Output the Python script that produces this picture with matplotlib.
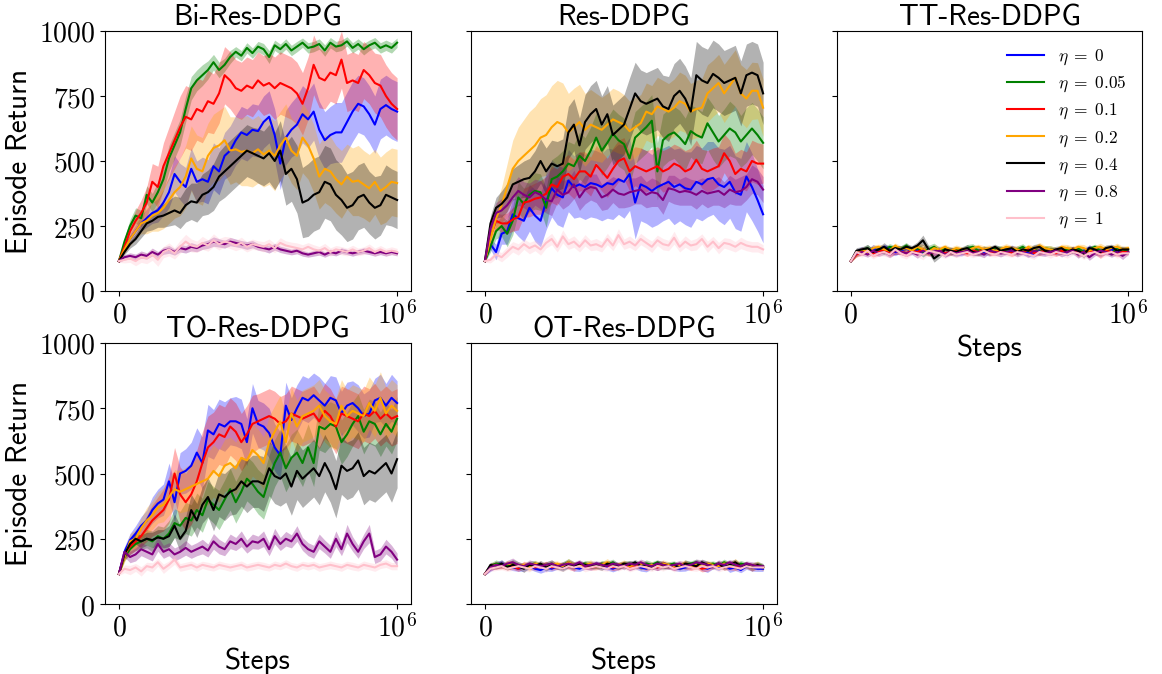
import numpy as np
import matplotlib.pyplot as plt

plt.rcParams['mathtext.fontset'] = 'cm'

# evaluation points (steps), 51 checkpoints from 0 to 1e6
steps = np.linspace(0, 1e6, 51)

eta_labels = [r'$\eta\;=\;0$', r'$\eta\;=\;0.05$', r'$\eta\;=\;0.1$', r'$\eta\;=\;0.2$',
              r'$\eta\;=\;0.4$', r'$\eta\;=\;0.8$', r'$\eta\;=\;1$']
colors = ['blue', 'green', 'red', 'orange', 'black', 'purple', 'pink']

# ---------------- Bi-Res-DDPG ----------------
bi_0 = [115, 170, 200, 230, 260, 280, 300, 310, 340, 380,
        450, 420, 400, 470, 420, 430, 420, 480, 460, 520,
        540, 580, 610, 600, 620, 615, 650, 670, 600, 490,
        590, 620, 640, 680, 660, 690, 620, 580, 600, 610,
        610, 650, 690, 720, 710, 680, 640, 700, 715, 700,
        690]
bi_0_sd = [5, 15, 20, 25, 30, 35, 40, 45, 50, 60,
           70, 70, 75, 80, 80, 85, 85, 90, 90, 90,
           95, 95, 100, 100, 100, 100, 100, 100, 100, 100,
           105, 105, 110, 110, 110, 110, 110, 110, 110, 115,
           115, 115, 115, 110, 110, 110, 110, 115, 115, 115,
           115]
bi_005 = [115, 190, 250, 290, 280, 370, 340, 380, 430, 510,
          560, 610, 700, 780, 810, 830, 850, 880, 850, 870,
          900, 920, 905, 935, 915, 940, 930, 900, 945, 930,
          950, 925, 940, 955, 935, 940, 950, 925, 955, 940,
          945, 960, 935, 950, 930, 945, 955, 935, 945, 935,
          955]
bi_005_sd = [5, 15, 25, 30, 30, 35, 35, 40, 45, 50,
             50, 50, 50, 45, 40, 40, 35, 30, 30, 25,
             25, 20, 20, 20, 20, 20, 22, 25, 20, 20,
             20, 20, 20, 18, 20, 20, 20, 22, 20, 20,
             20, 18, 20, 20, 22, 20, 20, 20, 20, 20,
             18]
bi_01 = [115, 170, 230, 270, 300, 340, 420, 400, 480, 530,
         580, 630, 670, 660, 700, 690, 730, 720, 760, 830,
         810, 780, 770, 790, 780, 810, 790, 800, 780, 800,
         790, 780, 760, 720, 780, 870, 820, 810, 840, 830,
         890, 800, 810, 800, 850, 830, 800, 790, 750, 720,
         700]
bi_01_sd = [5, 20, 30, 40, 50, 60, 70, 80, 90, 100,
            110, 120, 120, 120, 120, 120, 120, 115, 115, 110,
            110, 110, 110, 110, 110, 110, 115, 115, 120, 120,
            120, 120, 120, 120, 120, 115, 115, 110, 110, 110,
            110, 110, 110, 110, 110, 110, 115, 120, 120, 120,
            120]
bi_02 = [115, 160, 200, 230, 260, 270, 290, 300, 320, 350,
         380, 400, 440, 510, 470, 460, 520, 550, 560, 580,
         540, 545, 535, 540, 530, 545, 525, 540, 520, 560,
         590, 540, 520, 590, 560, 510, 440, 470, 460, 430,
         410, 440, 420, 425, 410, 395, 420, 385, 400, 420,
         415]
bi_02_sd = [5, 15, 25, 30, 40, 50, 60, 70, 80, 90,
            100, 110, 120, 125, 130, 130, 125, 130, 135, 130,
            130, 125, 130, 135, 130, 130, 125, 130, 135, 130,
            130, 125, 130, 135, 130, 130, 125, 130, 135, 130,
            130, 125, 130, 135, 130, 130, 125, 130, 135, 130,
            130]
bi_04 = [115, 150, 180, 200, 230, 260, 270, 285, 290, 300,
         310, 300, 330, 345, 340, 370, 380, 400, 440, 460,
         480, 500, 520, 540, 530, 520, 510, 530, 500, 540,
         450, 470, 430, 340, 350, 370, 380, 420, 410, 370,
         350, 320, 330, 360, 370, 340, 320, 330, 370, 360,
         350]
bi_04_sd = [5, 10, 15, 20, 25, 30, 35, 40, 45, 50,
            55, 60, 65, 70, 75, 80, 85, 90, 95, 100,
            100, 100, 100, 100, 100, 105, 105, 110, 110, 115,
            120, 125, 130, 135, 140, 140, 140, 140, 140, 135,
            135, 130, 130, 125, 125, 120, 120, 115, 115, 110,
            110]
bi_08 = [115, 130, 135, 130, 140, 135, 150, 140, 155, 160,
         150, 165, 160, 170, 165, 175, 180, 190, 185, 180,
         190, 185, 180, 175, 180, 170, 165, 160, 170, 160,
         155, 150, 155, 145, 140, 145, 150, 140, 150, 145,
         155, 150, 145, 150, 155, 150, 145, 150, 145, 150,
         145]
bi_08_sd = [5, 10, 12, 12, 14, 12, 15, 12, 14, 15,
            12, 15, 14, 16, 14, 15, 16, 18, 16, 15,
            16, 15, 14, 15, 14, 13, 12, 14, 13, 12,
            12, 11, 12, 11, 10, 11, 12, 10, 11, 10,
            11, 10, 11, 10, 11, 10, 11, 10, 11, 10,
            10]
bi_1 = [115, 120, 125, 115, 130, 125, 140, 120, 150, 160,
        145, 170, 190, 175, 170, 185, 175, 195, 180, 190,
        185, 175, 185, 170, 180, 175, 170, 180, 165, 185,
        175, 170, 165, 160, 170, 160, 155, 165, 150, 160,
        155, 150, 160, 150, 155, 165, 150, 160, 150, 155,
        150]
bi_1_sd = [5, 12, 15, 18, 20, 20, 22, 25, 22, 25,
           22, 25, 28, 25, 22, 25, 22, 25, 22, 20,
           22, 20, 22, 20, 20, 18, 20, 20, 18, 20,
           18, 18, 20, 18, 16, 18, 16, 18, 16, 15,
           16, 15, 16, 15, 15, 16, 15, 15, 14, 15,
           14]

# ---------------- Res-DDPG ----------------
res_0 = [115, 180, 150, 220, 230, 295, 280, 270, 320, 290,
         270, 345, 395, 370, 360, 425, 400, 410, 400, 415,
         410, 400, 415, 410, 430, 420, 450, 340, 410, 400,
         385, 400, 410, 420, 400, 410, 395, 390, 420, 410,
         430, 435, 410, 400, 420, 380, 370, 440, 400, 350,
         295]
res_0_sd = [5, 20, 30, 40, 50, 60, 70, 80, 90, 100,
            100, 110, 110, 115, 115, 120, 120, 125, 125, 130,
            130, 130, 135, 135, 135, 140, 140, 140, 140, 140,
            140, 145, 140, 140, 145, 140, 140, 145, 140, 140,
            145, 140, 140, 145, 140, 140, 140, 135, 130, 120,
            110]
res_005 = [115, 170, 230, 250, 220, 270, 360, 335, 370, 385,
           380, 320, 430, 440, 460, 490, 480, 520, 500, 540,
           590, 540, 570, 605, 580, 565, 510, 590, 610, 630,
           655, 460, 580, 600, 610, 590, 565, 615, 600, 590,
           645, 610, 575, 600, 625, 610, 575, 600, 625, 600,
           570]
res_005_sd = [5, 20, 30, 40, 50, 55, 60, 60, 65, 70,
              70, 75, 75, 80, 80, 85, 85, 90, 90, 90,
              95, 95, 95, 95, 100, 100, 100, 100, 100, 100,
              100, 110, 100, 100, 100, 105, 100, 100, 105, 100,
              100, 105, 100, 100, 105, 100, 100, 105, 100, 100,
              100]
res_01 = [115, 210, 270, 260, 260, 275, 285, 340, 345, 355,
          360, 375, 410, 400, 440, 450, 430, 460, 460, 440,
          485, 460, 435, 470, 500, 510, 460, 480, 470, 460,
          470, 480, 460, 470, 490, 480, 460, 470, 505, 470,
          460, 470, 480, 530, 500, 450, 470, 460, 500, 490,
          490]
res_01_sd = [5, 20, 30, 35, 40, 45, 50, 55, 60, 60,
             65, 65, 70, 70, 70, 75, 75, 75, 75, 75,
             75, 75, 75, 80, 80, 80, 75, 75, 80, 80,
             75, 75, 80, 80, 75, 75, 80, 80, 75, 75,
             80, 80, 75, 75, 80, 80, 75, 75, 80, 80,
             75]
res_02 = [115, 200, 280, 330, 400, 470, 500, 520, 540, 560,
          590, 600, 630, 650, 640, 610, 630, 650, 620, 640,
          630, 620, 640, 660, 650, 640, 615, 630, 645, 690,
          680, 710, 700, 690, 705, 730, 720, 690, 700, 705,
          760, 780, 800, 760, 790, 820, 760, 740, 770, 770,
          705]
res_02_sd = [5, 30, 50, 70, 90, 110, 130, 140, 150, 150,
             150, 155, 160, 160, 160, 150, 150, 145, 140, 135,
             130, 125, 120, 120, 120, 115, 115, 115, 110, 110,
             110, 112, 110, 108, 110, 112, 110, 108, 110, 112,
             110, 108, 110, 112, 110, 108, 110, 112, 110, 108,
             110]
res_04 = [115, 260, 320, 335, 360, 410, 420, 430, 435, 460,
          500, 460, 490, 480, 490, 610, 640, 560, 650, 680,
          700, 640, 680, 600, 620, 640, 700, 760, 730, 720,
          730, 740, 710, 700, 750, 770, 740, 690, 830, 810,
          800, 835, 820, 800, 810, 820, 760, 830, 840, 830,
          760]
res_04_sd = [5, 30, 40, 50, 55, 60, 65, 70, 75, 80,
             85, 90, 90, 95, 95, 100, 100, 105, 105, 110,
             110, 110, 110, 115, 115, 115, 120, 120, 120, 120,
             120, 120, 120, 125, 125, 125, 125, 130, 130, 130,
             130, 130, 130, 125, 125, 125, 125, 120, 120, 120,
             120]
res_08 = [115, 240, 300, 310, 330, 360, 385, 370, 360, 380,
          370, 350, 345, 390, 370, 380, 410, 360, 390, 400,
          395, 360, 370, 390, 375, 370, 380, 385, 390, 370,
          380, 375, 350, 395, 390, 380, 385, 380, 370, 385,
          375, 380, 385, 370, 390, 380, 385, 400, 430, 420,
          390]
res_08_sd = [5, 30, 40, 45, 50, 50, 55, 50, 55, 50,
             55, 50, 55, 50, 55, 50, 55, 50, 55, 50,
             55, 50, 55, 50, 55, 50, 55, 50, 55, 50,
             55, 50, 55, 50, 55, 50, 55, 50, 55, 50,
             55, 50, 55, 50, 55, 50, 55, 50, 55, 50,
             50]
res_1 = [115, 120, 140, 130, 150, 170, 160, 180, 165, 175,
         160, 185, 200, 170, 210, 180, 190, 170, 195, 175,
         180, 170, 200, 175, 215, 180, 190, 175, 200, 185,
         170, 195, 180, 175, 205, 170, 190, 175, 180, 200,
         170, 190, 165, 185, 180, 170, 185, 175, 170, 170,
         160]
res_1_sd = [5, 12, 15, 18, 20, 20, 22, 20, 22, 20,
            22, 20, 22, 20, 25, 20, 22, 20, 22, 20,
            22, 20, 22, 20, 25, 20, 22, 20, 22, 20,
            22, 20, 22, 20, 25, 20, 22, 20, 22, 20,
            22, 20, 22, 20, 22, 20, 22, 20, 20, 20,
            18]

# ---------------- TT-Res-DDPG ----------------
tt_0 = [115, 150, 160, 150, 165, 155, 170, 160, 150, 155,
        165, 150, 160, 145, 155, 150, 160, 140, 155, 150,
        145, 160, 150, 155, 150, 145, 160, 155, 150, 165,
        155, 150, 145, 140, 155, 150, 160, 150, 155, 145,
        160, 150, 155, 165, 150, 145, 155, 160, 150, 155,
        150]
tt_005 = [115, 145, 155, 165, 150, 160, 155, 170, 165, 160,
          175, 155, 165, 150, 160, 170, 155, 165, 150, 160,
          155, 165, 170, 155, 160, 150, 165, 160, 155, 150,
          160, 170, 155, 160, 150, 165, 160, 155, 150, 160,
          155, 165, 150, 160, 170, 155, 160, 145, 165, 155,
          160]
tt_01 = [115, 140, 150, 155, 145, 150, 160, 145, 155, 150,
         145, 155, 150, 160, 145, 150, 155, 145, 150, 155,
         150, 145, 155, 150, 160, 145, 150, 155, 150, 145,
         155, 150, 160, 145, 150, 155, 150, 145, 155, 150,
         160, 145, 150, 155, 150, 140, 155, 150, 145, 150,
         150]
tt_02 = [115, 145, 160, 150, 165, 170, 160, 155, 175, 160,
         165, 155, 170, 160, 150, 165, 160, 170, 155, 165,
         160, 155, 165, 170, 160, 165, 155, 160, 170, 165,
         160, 155, 170, 160, 175, 165, 160, 155, 170, 165,
         160, 170, 165, 155, 165, 170, 160, 165, 170, 160,
         165]
tt_04 = [115, 155, 160, 165, 150, 160, 170, 155, 165, 160,
         170, 165, 175, 195, 160, 125, 140, 160, 155, 150,
         160, 165, 150, 145, 155, 160, 170, 155, 160, 165,
         150, 160, 155, 165, 170, 155, 150, 160, 165, 150,
         160, 155, 140, 165, 160, 150, 165, 170, 155, 160,
         160]
tt_08 = [115, 145, 150, 140, 155, 145, 150, 140, 155, 150,
         145, 150, 140, 155, 145, 150, 155, 140, 150, 145,
         150, 155, 145, 150, 140, 155, 150, 145, 150, 155,
         145, 150, 140, 155, 150, 145, 150, 155, 145, 150,
         155, 140, 150, 130, 145, 155, 150, 140, 150, 135,
         150]
tt_1 = [115, 150, 140, 155, 135, 145, 150, 140, 160, 145,
        135, 150, 145, 140, 155, 150, 145, 135, 150, 140,
        145, 150, 140, 145, 155, 145, 140, 150, 145, 140,
        150, 145, 140, 135, 150, 145, 140, 150, 145, 140,
        150, 145, 135, 145, 150, 140, 145, 150, 140, 145,
        145]
tt_sd_a = [4, 10, 12, 10, 14, 12, 10, 12, 14, 10,
           12, 10, 14, 12, 10, 14, 12, 10, 12, 14,
           10, 12, 10, 14, 12, 10, 12, 14, 10, 12,
           14, 10, 12, 10, 14, 12, 10, 12, 14, 10,
           12, 14, 10, 12, 10, 14, 12, 10, 12, 14,
           10]
tt_sd_b = [4, 12, 10, 14, 12, 10, 16, 12, 10, 14,
           12, 10, 14, 20, 16, 14, 12, 10, 14, 12,
           10, 14, 12, 10, 14, 12, 10, 14, 12, 10,
           14, 12, 10, 14, 12, 10, 14, 12, 10, 14,
           12, 10, 14, 12, 10, 14, 12, 10, 14, 12,
           10]

# ---------------- TO-Res-DDPG ----------------
to_0 = [115, 200, 245, 270, 300, 320, 360, 385, 400, 470,
        390, 500, 510, 530, 580, 540, 665, 650, 690, 680,
        700, 700, 690, 620, 750, 690, 680, 655, 600, 570,
        760, 705, 750, 790, 780, 800, 780, 760, 790, 780,
        730, 760, 770, 750, 720, 730, 780, 790, 760, 790,
        770]
to_0_sd = [5, 20, 25, 30, 35, 40, 50, 55, 60, 70,
           75, 80, 85, 90, 95, 100, 100, 95, 95, 95,
           90, 95, 95, 90, 95, 90, 90, 95, 90, 90,
           90, 85, 90, 85, 85, 85, 90, 85, 85, 90,
           85, 90, 85, 90, 85, 90, 85, 90, 85, 90,
           85]
to_005 = [115, 180, 210, 230, 240, 250, 240, 260, 250, 270,
          310, 300, 330, 320, 360, 340, 400, 380, 360, 400,
          440, 390, 430, 480, 460, 430, 410, 480, 540, 580,
          520, 560, 580, 540, 600, 540, 680, 670, 690, 680,
          620, 650, 690, 720, 660, 700, 690, 650, 690, 660,
          710]
to_005_sd = [5, 15, 20, 25, 30, 35, 40, 40, 45, 50,
             55, 55, 60, 60, 65, 65, 70, 70, 75, 75,
             80, 80, 80, 85, 85, 85, 85, 90, 90, 90,
             90, 90, 90, 90, 90, 90, 90, 90, 85, 85,
             85, 85, 85, 85, 85, 85, 85, 85, 85, 85,
             85]
to_01 = [115, 190, 220, 240, 260, 290, 320, 340, 360, 400,
         500, 420, 390, 420, 470, 540, 600, 620, 650, 640,
         680, 660, 620, 650, 690, 700, 710, 720, 710, 690,
         700, 730, 720, 710, 720, 730, 700, 740, 720, 680,
         730, 720, 710, 700, 730, 720, 740, 710, 730, 710,
         720]
to_01_sd = [5, 20, 30, 35, 40, 50, 60, 70, 80, 90,
            100, 105, 110, 115, 120, 120, 120, 115, 115, 115,
            110, 110, 110, 110, 110, 105, 105, 105, 105, 105,
            105, 105, 105, 105, 105, 105, 105, 105, 105, 105,
            105, 105, 105, 105, 105, 105, 105, 105, 105, 105,
            105]
to_02 = [115, 180, 240, 250, 290, 320, 340, 370, 380, 410,
         440, 430, 440, 450, 460, 470, 480, 510, 490, 530,
         540, 520, 560, 550, 590, 570, 540, 620, 660, 700,
         620, 730, 680, 720, 730, 740, 760, 720, 700, 690,
         760, 720, 740, 730, 720, 770, 740, 790, 730, 760,
         740]
to_02_sd = [5, 20, 30, 35, 40, 50, 55, 60, 65, 70,
            75, 80, 85, 90, 95, 100, 100, 100, 100, 100,
            100, 100, 100, 100, 100, 100, 100, 100, 100, 100,
            100, 100, 100, 100, 100, 100, 100, 100, 100, 100,
            100, 100, 100, 100, 100, 100, 100, 100, 100, 100,
            100]
to_04 = [115, 190, 230, 250, 240, 250, 245, 255, 250, 260,
         300, 250, 280, 360, 320, 380, 410, 360, 420, 410,
         430, 440, 470, 450, 470, 470, 460, 520, 490, 480,
         500, 450, 510, 480, 500, 520, 490, 540, 500, 440,
         530, 510, 520, 550, 490, 510, 500, 520, 540, 500,
         555]
to_04_sd = [5, 15, 20, 20, 25, 25, 30, 30, 35, 40,
            45, 50, 55, 60, 65, 70, 75, 80, 85, 90,
            90, 95, 95, 100, 100, 100, 105, 105, 105, 105,
            110, 110, 110, 110, 110, 110, 110, 110, 110, 110,
            110, 110, 110, 110, 110, 110, 110, 110, 110, 110,
            110]
to_08 = [115, 200, 180, 190, 210, 200, 190, 230, 200, 210,
         190, 200, 215, 200, 210, 220, 205, 240, 220, 210,
         240, 230, 250, 220, 240, 235, 250, 210, 260, 230,
         250, 240, 270, 230, 210, 200, 240, 220, 200, 250,
         210, 270, 230, 200, 240, 270, 180, 190, 220, 200,
         170]
to_08_sd = [5, 20, 22, 25, 25, 25, 25, 28, 25, 25,
            25, 25, 28, 25, 25, 28, 25, 30, 28, 25,
            28, 25, 30, 25, 28, 25, 30, 25, 30, 25,
            28, 25, 30, 25, 25, 25, 28, 25, 25, 30,
            25, 35, 28, 25, 28, 35, 25, 25, 28, 25,
            25]
to_1 = [115, 135, 130, 140, 125, 145, 140, 160, 135, 150,
        170, 140, 145, 150, 140, 150, 145, 140, 150, 145,
        140, 145, 150, 140, 145, 150, 145, 140, 150, 145,
        155, 145, 140, 150, 145, 150, 140, 145, 150, 145,
        140, 150, 145, 140, 150, 145, 140, 150, 155, 145,
        145]
to_1_sd = [5, 15, 18, 15, 18, 15, 18, 15, 18, 15,
           18, 15, 15, 15, 15, 14, 15, 14, 15, 14,
           15, 14, 15, 14, 15, 14, 15, 14, 15, 14,
           15, 14, 15, 14, 15, 14, 15, 14, 15, 14,
           15, 14, 15, 14, 15, 14, 15, 14, 15, 14,
           14]

# ---------------- OT-Res-DDPG ----------------
ot_0 = [115, 135, 150, 155, 145, 140, 135, 140, 145, 135,
        130, 140, 135, 145, 140, 150, 140, 135, 145, 140,
        150, 145, 140, 135, 145, 150, 140, 145, 140, 135,
        145, 140, 150, 145, 140, 135, 140, 145, 150, 140,
        135, 145, 140, 150, 135, 140, 130, 145, 140, 135,
        135]
ot_005 = [115, 145, 155, 150, 145, 155, 150, 145, 150, 155,
          145, 150, 155, 145, 150, 160, 150, 145, 155, 150,
          145, 155, 150, 160, 145, 150, 155, 150, 145, 155,
          150, 160, 145, 150, 155, 145, 150, 155, 160, 145,
          150, 155, 145, 160, 150, 145, 155, 150, 145, 150,
          145]
ot_01 = [115, 140, 145, 150, 140, 145, 135, 150, 145, 140,
         145, 150, 140, 145, 150, 145, 140, 150, 145, 140,
         145, 150, 145, 140, 145, 150, 140, 145, 150, 140,
         145, 140, 150, 145, 140, 145, 150, 140, 145, 135,
         140, 145, 150, 140, 145, 140, 145, 150, 140, 145,
         140]
ot_02 = [115, 145, 150, 145, 155, 150, 145, 150, 140, 155,
         150, 145, 150, 155, 145, 160, 150, 145, 150, 155,
         145, 150, 160, 145, 150, 155, 145, 150, 155, 145,
         150, 145, 155, 150, 145, 150, 155, 145, 150, 145,
         155, 150, 145, 155, 150, 160, 145, 150, 145, 150,
         140]
ot_04 = [115, 150, 145, 155, 140, 150, 145, 135, 150, 145,
         155, 140, 150, 145, 135, 150, 145, 155, 150, 145,
         150, 140, 155, 150, 145, 155, 150, 160, 145, 150,
         140, 155, 150, 145, 150, 140, 155, 150, 145, 160,
         150, 145, 155, 140, 150, 160, 145, 150, 140, 150,
         140]
ot_08 = [115, 140, 150, 145, 155, 160, 150, 145, 155, 150,
         145, 150, 155, 145, 150, 155, 150, 160, 145, 150,
         155, 150, 145, 155, 150, 145, 155, 150, 160, 150,
         145, 155, 150, 145, 150, 155, 145, 150, 160, 155,
         150, 145, 155, 150, 160, 150, 145, 155, 150, 145,
         145]
ot_1 = [115, 135, 140, 145, 135, 140, 145, 140, 135, 145,
        140, 135, 145, 140, 135, 145, 140, 145, 135, 140,
        145, 140, 135, 145, 140, 145, 135, 140, 145, 140,
        135, 145, 140, 145, 135, 140, 145, 140, 135, 145,
        140, 145, 135, 140, 145, 140, 135, 145, 140, 140,
        140]
ot_sd_a = [4, 10, 12, 14, 10, 12, 10, 14, 12, 10,
           12, 14, 10, 12, 10, 12, 14, 10, 12, 10,
           14, 12, 10, 12, 14, 10, 12, 10, 14, 12,
           10, 12, 14, 10, 12, 10, 14, 12, 10, 12,
           14, 10, 12, 10, 14, 12, 10, 12, 14, 10,
           10]
ot_sd_b = [4, 12, 14, 10, 12, 16, 12, 10, 14, 12,
           10, 12, 14, 10, 12, 14, 12, 10, 12, 14,
           10, 12, 14, 12, 10, 14, 12, 10, 12, 14,
           12, 10, 14, 12, 10, 12, 14, 10, 12, 14,
           12, 10, 14, 12, 10, 14, 12, 10, 12, 14,
           10]

panels = [
    ('Bi-Res-DDPG', [bi_0, bi_005, bi_01, bi_02, bi_04, bi_08, bi_1],
     [bi_0_sd, bi_005_sd, bi_01_sd, bi_02_sd, bi_04_sd, bi_08_sd, bi_1_sd]),
    ('Res-DDPG', [res_0, res_005, res_01, res_02, res_04, res_08, res_1],
     [res_0_sd, res_005_sd, res_01_sd, res_02_sd, res_04_sd, res_08_sd, res_1_sd]),
    ('TT-Res-DDPG', [tt_0, tt_005, tt_01, tt_02, tt_04, tt_08, tt_1],
     [tt_sd_a, tt_sd_b, tt_sd_a, tt_sd_b, tt_sd_b, tt_sd_a, tt_sd_b]),
    ('TO-Res-DDPG', [to_0, to_005, to_01, to_02, to_04, to_08, to_1],
     [to_0_sd, to_005_sd, to_01_sd, to_02_sd, to_04_sd, to_08_sd, to_1_sd]),
    ('OT-Res-DDPG', [ot_0, ot_005, ot_01, ot_02, ot_04, ot_08, ot_1],
     [ot_sd_a, ot_sd_b, ot_sd_a, ot_sd_b, ot_sd_a, ot_sd_b, ot_sd_a]),
]

W, H = 1162, 674
fig = plt.figure(figsize=(W / 100, H / 100), dpi=100)

# axes boxes in pixels: (left, top, width, height)
boxes = [(105, 31, 306, 260), (471, 31, 306, 260), (837, 31, 305, 260),
         (105, 343, 306, 261), (471, 343, 306, 261)]

tick_fs = 20
label_fs = 21

for k, (title, means, sds) in enumerate(panels):
    l, t, w, h = boxes[k]
    ax = fig.add_axes([l / W, 1 - (t + h) / H, w / W, h / H])
    for m, s, c, lab in zip(means, sds, colors, eta_labels):
        m = np.array(m, dtype=float)
        s = np.array(s, dtype=float)
        ax.fill_between(steps, m - s, m + s, color=c, alpha=0.3, linewidth=0)
        ax.plot(steps, m, color=c, linewidth=1.5, label=lab)

    ax.set_ylim(0, 1000)
    ax.set_xlim(-5e4, 1.05e6)
    ax.set_xticks([0, 1e6])
    ax.set_xticklabels(['$0$', '$10^6$'], fontsize=tick_fs)
    ax.set_yticks([0, 250, 500, 750, 1000])
    if k in (0, 3):
        ax.set_yticklabels(['$0$', '$250$', '$500$', '$750$', '$1000$'], fontsize=tick_fs)
        ax.set_ylabel('Episode Return', fontsize=label_fs, fontfamily='cmss10')
    else:
        ax.set_yticklabels([])
    if k in (2, 3, 4):
        ax.set_xlabel('Steps', fontsize=label_fs, fontfamily='cmss10')
    ax.set_title(title, fontsize=label_fs, fontfamily='cmss10', pad=4)

    if k == 2:
        ax.legend(loc='upper right', frameon=False, fontsize=12.5,
                  handlelength=2.1, labelspacing=0.4)

fig.savefig('out.png', dpi=100)
